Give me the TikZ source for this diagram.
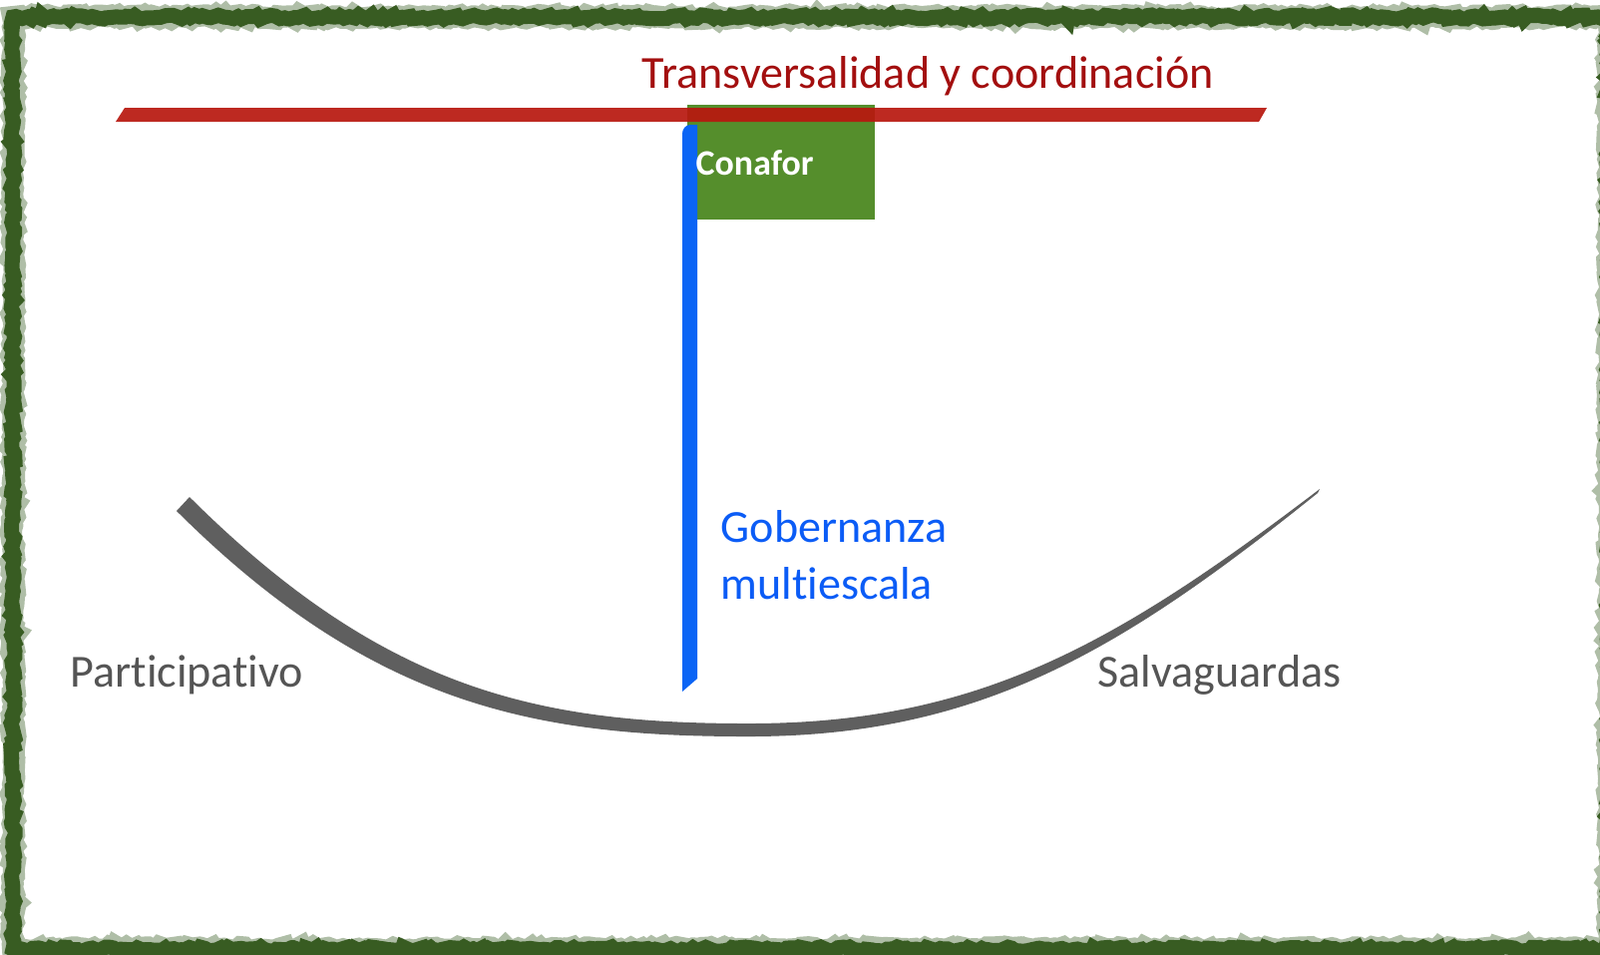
\documentclass[tikz,border=0pt]{standalone}
\usepackage{fontspec}
\setmainfont{Carlito}[Ligatures=NoCommon]
\usetikzlibrary{decorations.pathmorphing}

\definecolor{framegreen}{HTML}{385C22}
\definecolor{boxgreen}{HTML}{558E2C}
\definecolor{barred}{HTML}{B8170F}
\definecolor{titlered}{HTML}{A30F0F}
\definecolor{barblue}{HTML}{0A64F5}
\definecolor{textblue}{HTML}{0B5CF6}
\definecolor{textgray}{HTML}{555555}
\definecolor{curvegray}{HTML}{5F5F5F}

\begin{document}
\begin{tikzpicture}[x=0.01cm, y=-0.01cm,
	bigtext/.style={font=\fontsize{13.1}{16.2}\selectfont, anchor=base west, inner sep=0pt},
	roughline/.style={decorate, decoration={random steps, segment length=1.2pt, amplitude=0.6pt}}]
	\useasboundingbox (0,0) rectangle (1604,956);
	\fill[white] (0,0) rectangle (1604,956);
	% frame
	\draw[framegreen!40, line width=0.22cm, roughline] (13,17) rectangle (1613,951);
	\draw[framegreen, line width=0.15cm, roughline] (13,17) rectangle (1613,951);
	% box and bars
	\fill[boxgreen] (689,105) rectangle (877,220);
	\fill[barblue] (684,693) -- (684,134) to[out=90, in=180] (692,125) -- (699,125) -- (699,680) -- cycle;
	\fill[barred, opacity=0.92] (116,122) -- (125,108) -- (1270,108) -- (1262,122) -- cycle;
	% curve
	\fill[curvegray] (190,498) .. controls (385,692) and (540,725) .. (750,725)
		.. controls (980,725) and (1118,646) .. (1323,490)
		-- (1321,494) .. controls (1122,654) and (980,738) .. (750,738)
		.. controls (540,738) and (375,709) .. (177,512) -- cycle;
	% labels
	\node[bigtext, text=titlered] (transv) at (643,88) {Transversalidad y coordinación};
	\node[font=\fontsize{10.2}{12}\selectfont\bfseries, anchor=base west, inner sep=0pt, text=white] (conafor) at (697,175) {Conafor};
	\node[bigtext, text=textblue, align=left] (gober) at (722,600) {Gobernanza\\multiescala};
	\node[bigtext, text=textgray] (partic) at (70,688) {Participativo};
	\node[bigtext, text=textgray] (salva) at (1100,688) {Salvaguardas};
\end{tikzpicture}
\end{document}
